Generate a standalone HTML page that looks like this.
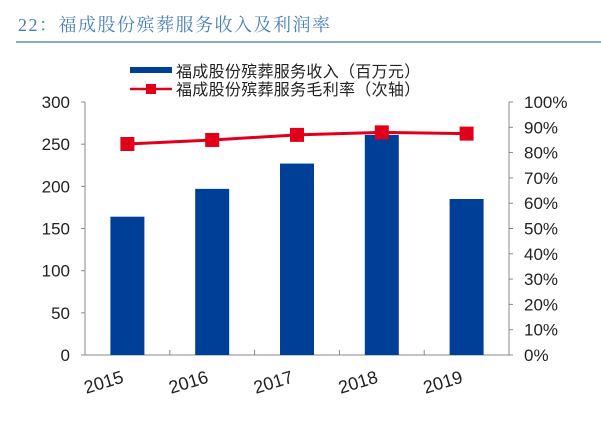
<!DOCTYPE html>
<html><head><meta charset="utf-8"><style>
body{margin:0;background:#fff;width:601px;height:418px;overflow:hidden}
text{font-family:"Liberation Sans","Noto Sans CJK SC",sans-serif}
</style></head><body>
<svg id="c" width="601" height="418">
<text x="18" y="31" font-size="18" fill="#4a7ebb" style="font-family:'Liberation Serif','Noto Serif CJK SC',serif;letter-spacing:1.5px">22：福成股份殡葬服务收入及利润率</text>
<line x1="16" y1="42" x2="601" y2="42" stroke="#5b8fc9" stroke-width="1.5"/>
<g>
<rect x="130" y="67" width="42" height="6" fill="#003f98"/>
<text x="176" y="77" font-size="16" fill="#222" style="letter-spacing:0.3px">福成股份殡葬服务收入（百万元）</text>
<line x1="130" y1="89" x2="172" y2="89" stroke="#e0001a" stroke-width="2.5"/>
<rect x="146" y="84" width="10" height="10" fill="#e0001a"/>
<text x="176" y="95" font-size="16" fill="#222" style="letter-spacing:0.3px">福成股份殡葬服务毛利率（次轴）</text>
</g>
<g id="plot"></g>
</svg>
<script>
const categories=["2015","2016","2017","2018","2019"];
const revenue=[164,197,227,261,185];
const margin=[0.834,0.85,0.87,0.88,0.875];
const leftTicks=[0,50,100,150,200,250,300];
const rightTicks=[0,0.1,0.2,0.3,0.4,0.5,0.6,0.7,0.8,0.9,1.0];
const X0=85,X1=509,Y0=355,Y1=102;
const ns="http://www.w3.org/2000/svg";
const g=document.getElementById('plot');
function mk(t,a){const e=document.createElementNS(ns,t);for(const k in a)e.setAttribute(k,a[k]);g.appendChild(e);return e;}
const bw=(X1-X0)/categories.length;
const xc=i=>X0+bw*(i+0.5);
const yl=v=>Y0-(v/300)*(Y0-Y1);
const yr=v=>Y0-v*(Y0-Y1);
let e;
e=mk('line',{x1:X0,y1:Y1,x2:X0,y2:Y0,stroke:'#888'});


e=mk('line',{x1:X1,y1:Y1,x2:X1,y2:Y0,stroke:'#888'});


e=mk('line',{x1:X0,y1:Y0,x2:X1,y2:Y0,stroke:'#888'});


leftTicks.forEach(v=>{
 mk('line',{x1:X0-4,y1:yl(v),x2:X0,y2:yl(v),stroke:'#888'});
 e=mk('text',{x:70,y:yl(v)+6,'font-size':17,'text-anchor':'end',fill:'#222'});e.textContent=v;
 
 
});
rightTicks.forEach(v=>{
 mk('line',{x1:X1,y1:yr(v),x2:X1+4,y2:yr(v),stroke:'#888'});
 e=mk('text',{x:524,y:yr(v)+6,'font-size':17,fill:'#222'});e.textContent=Math.round(v*100)+'%';
 
 
});
for(let i=1;i<categories.length;i++)mk('line',{x1:X0+bw*i,y1:Y0,x2:X0+bw*i,y2:Y0-5,stroke:'#888'});
categories.forEach((c,i)=>{
 e=mk('rect',{x:xc(i)-17,y:yl(revenue[i]),width:34,height:Y0-yl(revenue[i]),fill:'#003f98'});
 
 
 const tx=xc(i)-22,ty=Y0+33;
 e=mk('text',{x:tx,y:ty,'font-size':18,fill:'#222','text-anchor':'middle',transform:`rotate(-17 ${tx} ${ty})`});e.textContent=c;
 
 
});
e=mk('polyline',{points:margin.map((m,i)=>xc(i)+','+yr(m)).join(' '),fill:'none',stroke:'#e0001a','stroke-width':3});


margin.forEach((m,i)=>{
 e=mk('rect',{x:xc(i)-7,y:yr(m)-7,width:14,height:14,fill:'#e0001a'});
 
 
});
</script>
</body></html>
